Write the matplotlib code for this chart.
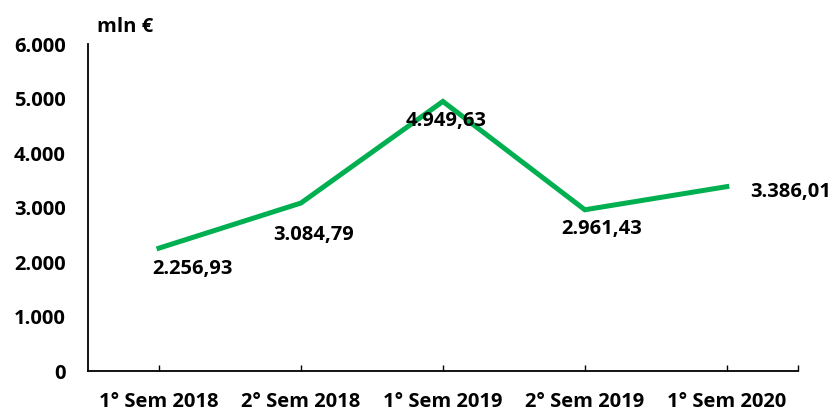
#!/usr/bin/env python3
"""Line chart of half-year values (mln EUR)."""
import matplotlib
matplotlib.use("Agg")
import matplotlib.pyplot as plt
from matplotlib.ticker import FixedLocator

periods = ["1° Sem 2018", "2° Sem 2018", "1° Sem 2019", "2° Sem 2019", "1° Sem 2020"]
values = [2256.93, 3084.79, 4949.63, 2961.43, 3386.01]
value_labels = ["2.256,93", "3.084,79", "4.949,63", "2.961,43", "3.386,01"]
y_ticks = [0, 1000, 2000, 3000, 4000, 5000, 6000]
y_tick_labels = ["0", "1.000", "2.000", "3.000", "4.000", "5.000", "6.000"]

# label offsets from each point, in points
label_offsets = [(24, -15), (9, -23), (2, -14), (12, -14), (46, -4)]

FS = 14.5


def plot_chart():
    plt.rcParams["font.family"] = ["Open Sans", "DejaVu Sans"]
    plt.rcParams["font.weight"] = "bold"

    fig = plt.figure(figsize=(8.38, 4.17), dpi=100)
    ax = fig.add_axes([0.105, 0.110, 0.847, 0.784])

    x = list(range(len(periods)))
    ax.plot(x, values, "-", color="#00B050", linewidth=3.6,
            solid_joinstyle="miter", zorder=2)

    for xi, v, lab, off in zip(x, values, value_labels, label_offsets):
        ax.annotate(lab, (xi, v), xytext=off, textcoords="offset points",
                    ha="center", va="center", fontsize=FS, fontweight="bold",
                    color="black", zorder=3)

    ax.set_xlim(-0.5, len(periods) - 0.5)
    ax.set_ylim(0, 6000)
    ax.set_xticks(x)
    ax.set_xticklabels(periods, fontsize=FS, fontweight="bold")
    ax.xaxis.set_minor_locator(FixedLocator([len(periods) - 0.5]))
    ax.tick_params(axis="x", which="both", direction="in", length=4.5,
                   width=1, pad=15)
    ax.set_yticks(y_ticks)
    ax.set_yticklabels(y_tick_labels, fontsize=FS, fontweight="bold")
    ax.tick_params(axis="y", length=0, pad=16)

    for side in ("top", "right"):
        ax.spines[side].set_visible(False)
    for side in ("left", "bottom"):
        ax.spines[side].set_linewidth(1.3)

    ax.text(0.052, 1.052, "mln €", transform=ax.transAxes, ha="center",
            va="center", fontsize=FS, fontweight="bold")

    fig.savefig("out.png", dpi=100)


if __name__ == "__main__":
    plot_chart()
